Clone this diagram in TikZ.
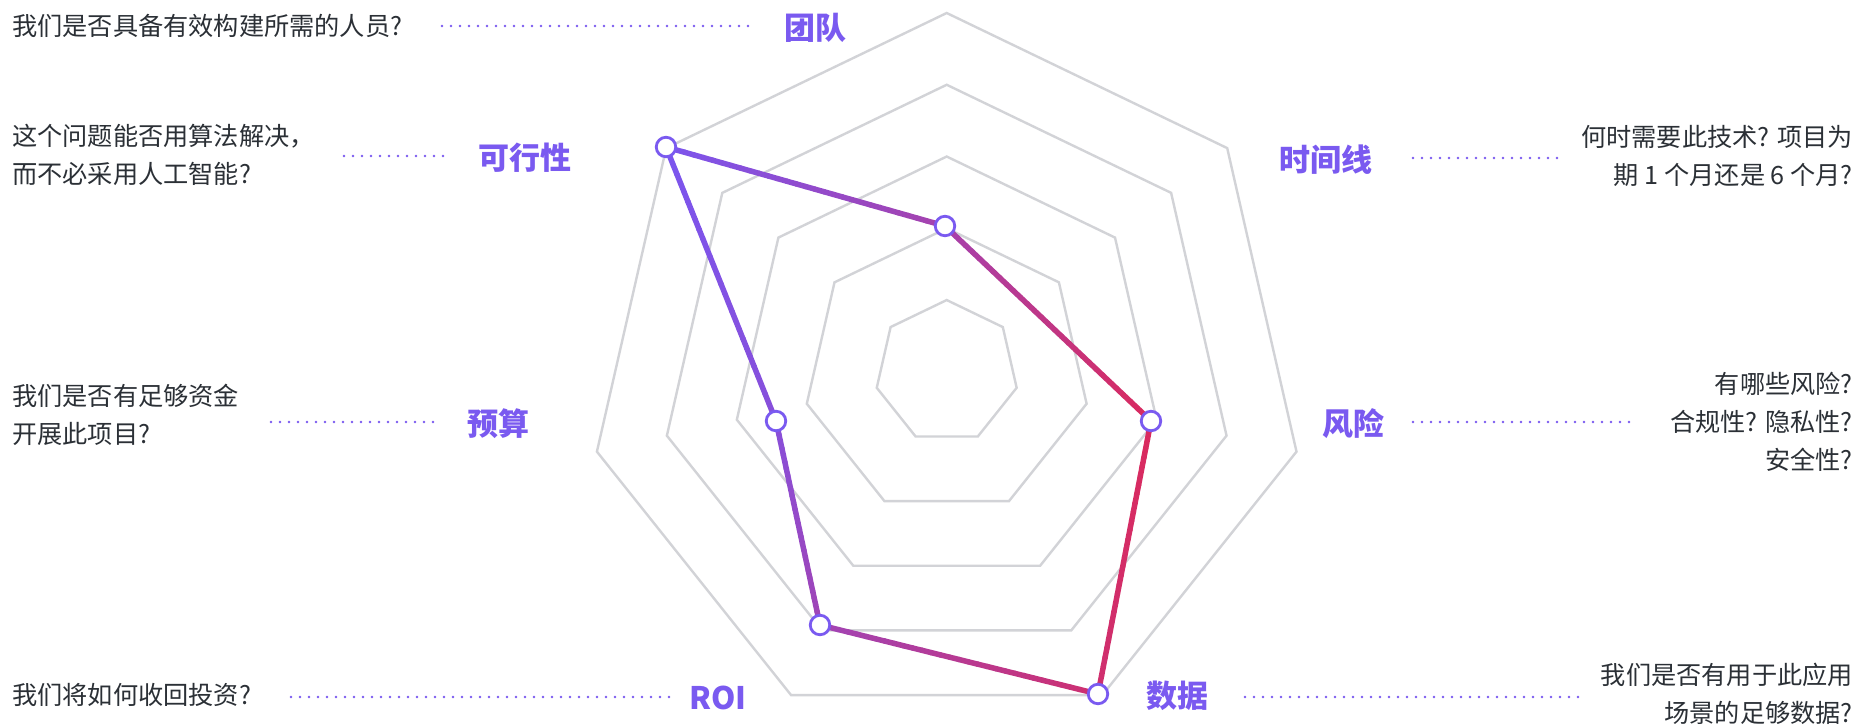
\documentclass[tikz,border=0pt]{standalone}
\usepackage{fontspec}
\setmainfont{Noto Sans CJK SC}
\usetikzlibrary{calc}
\definecolor{lab}{HTML}{7A5AF0}
\definecolor{txt}{HTML}{2B3036}
\definecolor{ringc}{HTML}{D2D3D7}
\definecolor{purp}{HTML}{7B55EE}
\definecolor{crim}{HTML}{DA2A5E}
\tikzset{
  ring/.style={draw=ringc, line width=2.4pt, line join=miter},
  qtext/.style={text=txt, inner sep=0pt, font=\fontsize{25.2}{38}\selectfont},
  axlabel/.style={text=lab, inner sep=0pt, anchor=west, font=\fontsize{31}{36}\selectfont\bfseries},
  dotline/.style={draw=lab, line width=2.8pt, line cap=round, dash pattern=on 0pt off 9pt},
  dataline/.style={line width=5.5pt, line cap=round},
  marker/.style={circle, draw=lab, fill=white, line width=2.8pt, minimum size=19.5pt, inner sep=0pt}
}
\newcommand{\gradseg}[4]{%
  \foreach \i in {0,...,29}{%
    \pgfmathsetmacro{\ta}{\i/30}%
    \pgfmathsetmacro{\tb}{(\i+1)/30}%
    \pgfmathtruncatemacro{\pp}{round(#2+(#4-#2)*(\i+0.5)/30)}%
    \draw[dataline, draw=crim!\pp!purp] ($(#1)!\ta!(#3)$) -- ($(#1)!\tb!(#3)$);
  }%
}
\begin{document}
\begin{tikzpicture}[x=1pt, y=-1pt]
\useasboundingbox (0,0) rectangle (1862,724);
\fill[white] (0,0) rectangle (1862,724);

% grid rings
\foreach \v in {0.2,0.4,0.6,0.8,1.0}{
  \draw[ring] ({946.7+\v*358.8*cos(90)}, {371.8-\v*358.8*sin(90)})
    \foreach \k in {1,...,6}{ -- ({946.7+\v*358.8*cos(90+\k*360/7)}, {371.8-\v*358.8*sin(90+\k*360/7)}) } -- cycle;
}

% data points
\coordinate (pfeas) at (666,147);
\coordinate (pteam) at (945,226);
\coordinate (prisk) at (1151,421);
\coordinate (pdata) at (1098,694);
\coordinate (proi) at (820,625);
\coordinate (pbud) at (776,421);

\gradseg{pfeas}{0}{pteam}{45}
\gradseg{pteam}{45}{prisk}{100}
\gradseg{prisk}{100}{pdata}{88}
\gradseg{pdata}{88}{proi}{40}
\gradseg{proi}{40}{pbud}{14}
\gradseg{pbud}{14}{pfeas}{0}

\node[marker] (mfeas) at (pfeas) {};
\node[marker] (mteam) at (pteam) {};
\node[marker] (mrisk) at (prisk) {};
\node[marker] (mdata) at (pdata) {};
\node[marker] (mroi) at (proi) {};
\node[marker] (mbud) at (pbud) {};

% axis labels
\node[axlabel] (lteam) at (784,28) {团队};
\node[axlabel] (lfeas) at (478,158) {可行性};
\node[axlabel] (lbud) at (467,424) {预算};
\node[axlabel] (lroi) at (689,698) {ROI};
\node[axlabel] (ltime) at (1279,160) {时间线};
\node[axlabel] (lrisk) at (1322,424) {风险};
\node[axlabel] (ldata) at (1146,696) {数据};

% questions
\node[qtext, anchor=west, align=left] (qteam) at (12,26) {我们是否具备有效构建所需的人员?};
\node[qtext, anchor=west, align=left] (qfeas) at (12,155) {这个问题能否用算法解决，\\而不必采用人工智能?};
\node[qtext, anchor=west, align=left] (qbud) at (12,415) {我们是否有足够资金\\开展此项目?};
\node[qtext, anchor=west, align=left] (qroi) at (12,695) {我们将如何收回投资?};
\node[qtext, anchor=east, align=right] (qtime) at (1853,156) {何时需要此技术? 项目为\\期 1 个月还是 6 个月?};
\node[qtext, anchor=east, align=right] (qrisk) at (1853,422) {有哪些风险?\\合规性? 隐私性?\\安全性?};
\node[qtext, anchor=east, align=right] (qdata) at (1853,694) {我们是否有用于此应用\\场景的足够数据?};

% dotted leaders
\coordinate (dteamA) at (442,26);  \coordinate (dteamB) at (756,26);
\coordinate (dfeasA) at (344,156); \coordinate (dfeasB) at (451,156);
\coordinate (dbudA) at (271,422);  \coordinate (dbudB) at (439,422);
\coordinate (droiA) at (291,697);  \coordinate (droiB) at (673,697);
\coordinate (dtimeA) at (1413,158); \coordinate (dtimeB) at (1565,158);
\coordinate (driskA) at (1413,422); \coordinate (driskB) at (1633,422);
\coordinate (ddataA) at (1245,697); \coordinate (ddataB) at (1579,697);
\draw[dotline] (dteamA) -- (dteamB);
\draw[dotline] (dfeasA) -- (dfeasB);
\draw[dotline] (dbudA) -- (dbudB);
\draw[dotline] (droiA) -- (droiB);
\draw[dotline] (dtimeA) -- (dtimeB);
\draw[dotline] (driskA) -- (driskB);
\draw[dotline] (ddataA) -- (ddataB);
\end{tikzpicture}
\end{document}
